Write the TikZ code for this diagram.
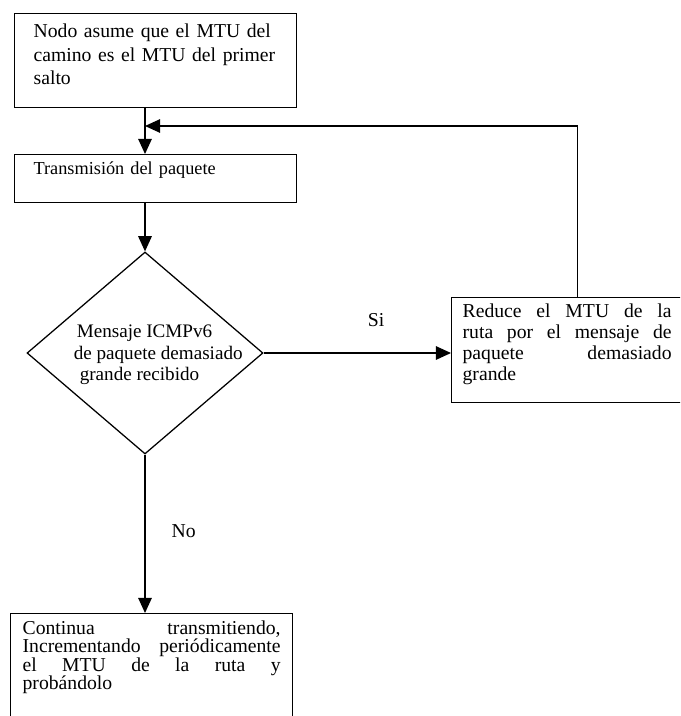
\documentclass[tikz,border=0pt]{standalone}
\usepackage{fontspec}
\setmainfont{Liberation Serif}
\usetikzlibrary{shapes.geometric, arrows.meta, positioning, calc}

\hbadness=10000

\begin{document}
\begin{tikzpicture}[
    every node/.style={font=\fontsize{14}{16.7}\selectfont},
    box/.style={draw, line width=0.9pt, anchor=north west, inner ysep=0.15cm, align=left},
    jbox/.style={box, align=justify},
    decision/.style={draw, diamond, line width=0.9pt, minimum width=5.9cm,
                     minimum height=5.05cm, inner sep=0pt},
    arrow/.style={-{Triangle[length=0.38cm, width=0.34cm]}, line width=0.9pt},
    lbl/.style={inner sep=0pt}
]
\useasboundingbox (0,0) rectangle (17,-17.9);
\clip (0,0) rectangle (17,-17.9);

\node[box, text width=6.1cm, inner xsep=0.475cm, text height=0.45cm, text depth=1.6cm]
    (start) at (0.35,-0.325) {Nodo asume que el MTU del\\ camino es el MTU del primer\\ salto};
\node[box, font=\fontsize{13}{15}\selectfont, text width=6.1cm, inner xsep=0.475cm,
      text height=0.35cm, text depth=0.55cm]
    (trans) at (0.35,-3.85) {Transmisión del paquete};

\node[decision] (dec) at (3.625,-8.825) {};
\node[lbl, align=left, font=\fontsize{13.6}{15.2}\selectfont] (dectext) at ([xshift=0.33cm, yshift=-0.05cm]dec.center)
    {\hspace*{0.075cm}Mensaje ICMPv6\\ de paquete demasiado\\ \hspace*{0.15cm}grande recibido};

\node[jbox, font=\fontsize{14}{15}\selectfont, text width=5.225cm, inner xsep=0.275cm,
      text height=0.35cm, text depth=1.975cm]
    (reduce) at (11.275,-7.425) {Reduce el MTU de la\linebreak ruta por el mensaje de\linebreak paquete demasiado\linebreak grande};

\node[jbox, font=\fontsize{14}{13}\selectfont, text width=6.45cm, inner xsep=0.3cm,
      text height=0.375cm, text depth=3.5cm]
    (cont) at (0.25,-15.325) {Continua transmitiendo,\linebreak Incrementando periódicamente\linebreak el MTU de la ruta y\linebreak probándolo};

% punto donde vuelve el lazo
\coordinate (join) at (3.625,-3.15);

\draw[arrow] (start.south -| dec.north) -- (trans.north -| dec.north);
\draw[arrow] (trans.south -| dec.north) -- (dec.north);
\draw[arrow] (dec.east) -- node[lbl, pos=0.6, above=0.65cm]{Si} (dec.east -| reduce.west);
\draw[arrow] ([xshift=0.2625cm]reduce.north) |- (join);
\draw[arrow] (dec.south) -- node[lbl, pos=0.48, right=0.65cm]{No} (dec.south |- cont.north);
\end{tikzpicture}
\end{document}
